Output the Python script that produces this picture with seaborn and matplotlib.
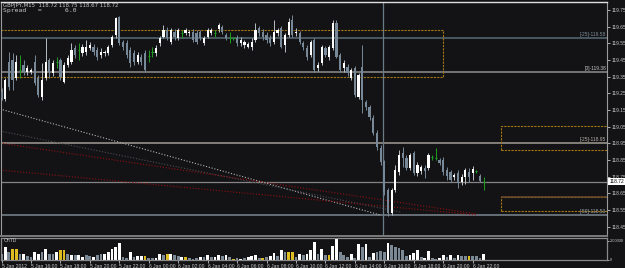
import numpy as np
import pandas as pd
import matplotlib
matplotlib.use("Agg")
import matplotlib.pyplot as plt
import matplotlib.transforms as mtrans
from matplotlib.patches import Rectangle
import seaborn as sns

# ---------------- data ----------------
opens = [
    119.258, 119.216, 119.438, 119.45, 119.342, 119.39, 119.42, 119.378, 119.378, 119.438,
    119.342, 119.228, 119.342, 119.45, 119.372, 119.438, 119.45, 119.318, 119.42, 119.438,
    119.522, 119.51, 119.492, 119.498, 119.522, 119.528, 119.51, 119.48, 119.492, 119.492,
    119.54, 119.60, 119.708, 119.558, 119.552, 119.51, 119.492, 119.438, 119.468, 119.492,
    119.474, 119.498, 119.492, 119.552, 119.588, 119.63, 119.558, 119.618, 119.582, 119.612,
    119.612, 119.612, 119.618, 119.612, 119.618, 119.552, 119.588, 119.612, 119.612, 119.636,
    119.648, 119.60, 119.582, 119.582, 119.582, 119.552, 119.54, 119.528, 119.528, 119.57,
    119.642, 119.618, 119.60, 119.582, 119.558, 119.612, 119.642, 119.54, 119.60, 119.69,
    119.612, 119.612, 119.552, 119.522, 119.48, 119.57, 119.402, 119.432, 119.522, 119.468,
    119.522, 119.672, 119.48, 119.402, 119.408, 119.342, 119.402, 119.228, 119.408, 119.198,
    119.168, 119.102, 119.012, 118.922, 118.838, 118.67, 118.532, 118.67, 118.778, 118.892,
    118.862, 118.802, 118.892, 118.772, 118.784, 118.802, 118.802, 118.868, 118.862, 118.85,
    118.85, 118.79, 118.778, 118.748, 118.772, 118.718, 118.748, 118.778, 118.772, 118.784,
    118.754, 118.72]
highs = [
    119.282, 119.342, 119.498, 119.492, 119.48, 119.48, 119.45, 119.42, 119.402, 119.48,
    119.36, 119.432, 119.582, 119.462, 119.45, 119.468, 119.462, 119.438, 119.48, 119.552,
    119.54, 119.552, 119.546, 119.57, 119.558, 119.546, 119.528, 119.522, 119.51, 119.54,
    119.60, 119.708, 119.714, 119.57, 119.57, 119.528, 119.51, 119.498, 119.486, 119.51,
    119.51, 119.528, 119.54, 119.594, 119.66, 119.648, 119.642, 119.636, 119.642, 119.63,
    119.642, 119.63, 119.636, 119.63, 119.63, 119.594, 119.642, 119.642, 119.63, 119.672,
    119.66, 119.612, 119.618, 119.588, 119.60, 119.588, 119.57, 119.558, 119.582, 119.672,
    119.654, 119.636, 119.618, 119.60, 119.69, 119.642, 119.654, 119.612, 119.702, 119.72,
    119.642, 119.624, 119.564, 119.54, 119.57, 119.582, 119.438, 119.54, 119.534, 119.54,
    119.69, 119.69, 119.492, 119.45, 119.426, 119.402, 119.414, 119.372, 119.54, 119.21,
    119.18, 119.12, 119.03, 118.94, 118.85, 118.682, 118.682, 118.82, 118.91, 118.928,
    118.88, 118.892, 118.904, 118.838, 118.82, 118.82, 118.892, 118.88, 118.922, 118.862,
    118.868, 118.808, 118.79, 118.772, 118.79, 118.766, 118.802, 118.802, 118.814, 118.79,
    118.766, 118.75]
lows = [
    119.21, 119.204, 119.27, 119.27, 119.33, 119.342, 119.36, 119.36, 119.366, 119.30,
    119.228, 119.21, 119.33, 119.342, 119.354, 119.402, 119.33, 119.312, 119.408, 119.426,
    119.462, 119.45, 119.474, 119.48, 119.51, 119.48, 119.45, 119.462, 119.474, 119.48,
    119.528, 119.582, 119.54, 119.51, 119.462, 119.408, 119.42, 119.426, 119.42, 119.378,
    119.438, 119.468, 119.474, 119.534, 119.582, 119.57, 119.546, 119.57, 119.57, 119.582,
    119.60, 119.594, 119.558, 119.546, 119.57, 119.54, 119.582, 119.60, 119.588, 119.618,
    119.606, 119.57, 119.552, 119.57, 119.534, 119.534, 119.522, 119.522, 119.51, 119.558,
    119.594, 119.57, 119.552, 119.534, 119.546, 119.594, 119.522, 119.498, 119.588, 119.588,
    119.594, 119.546, 119.51, 119.45, 119.468, 119.378, 119.384, 119.42, 119.468, 119.45,
    119.51, 119.462, 119.378, 119.378, 119.354, 119.33, 119.228, 119.216, 119.132, 119.15,
    119.09, 119.00, 118.91, 118.82, 118.64, 118.514, 118.52, 118.658, 118.76, 118.808,
    118.79, 118.79, 118.76, 118.754, 118.766, 118.742, 118.79, 118.85, 118.85, 118.82,
    118.76, 118.73, 118.718, 118.73, 118.682, 118.70, 118.706, 118.718, 118.73, 118.772,
    118.718, 118.67]
closes = [
    119.222, 119.33, 119.288, 119.33, 119.438, 119.39, 119.378, 119.402, 119.39, 119.312,
    119.24, 119.33, 119.438, 119.378, 119.432, 119.438, 119.348, 119.42, 119.462, 119.51,
    119.48, 119.51, 119.528, 119.528, 119.54, 119.498, 119.468, 119.498, 119.498, 119.528,
    119.588, 119.702, 119.552, 119.528, 119.48, 119.432, 119.438, 119.48, 119.438, 119.39,
    119.474, 119.498, 119.522, 119.582, 119.63, 119.582, 119.63, 119.588, 119.63, 119.612,
    119.63, 119.618, 119.57, 119.558, 119.582, 119.582, 119.63, 119.63, 119.612, 119.66,
    119.618, 119.582, 119.582, 119.582, 119.552, 119.57, 119.558, 119.546, 119.558, 119.63,
    119.612, 119.588, 119.57, 119.552, 119.618, 119.63, 119.528, 119.60, 119.678, 119.60,
    119.618, 119.558, 119.528, 119.468, 119.558, 119.39, 119.42, 119.528, 119.48, 119.528,
    119.672, 119.468, 119.39, 119.432, 119.372, 119.39, 119.24, 119.36, 119.21, 119.168,
    119.108, 119.012, 118.928, 118.838, 118.658, 118.532, 118.67, 118.79, 118.88, 118.862,
    118.802, 118.88, 118.772, 118.82, 118.808, 118.784, 118.88, 118.868, 118.862, 118.832,
    118.778, 118.754, 118.73, 118.76, 118.712, 118.748, 118.79, 118.748, 118.796, 118.784,
    118.724, 118.72]
volumes = [
    0.62, 1.31, 0.79, 1.14, 1.14, 0.62, 0.62, 0.34, 0.28, 0.79,
    0.62, 0.79, 1.14, 0.62, 0.55, 0.79, 0.97, 0.97, 0.62, 0.52,
    0.45, 0.45, 0.28, 0.45, 0.34, 0.28, 0.45, 0.62, 0.62, 0.79,
    1.14, 1.31, 1.72, 0.28, 0.21, 0.79, 0.28, 0.34, 0.41, 0.41,
    0.21, 0.14, 0.21, 0.62, 0.45, 0.62, 0.62, 0.45, 0.34, 0.28,
    0.28, 0.21, 0.10, 0.21, 0.28, 0.28, 0.48, 0.28, 0.28, 0.48,
    0.34, 0.48, 0.28, 0.07, 0.14, 0.10, 0.21, 0.28, 0.34, 0.48,
    0.21, 0.14, 0.28, 0.34, 0.72, 0.34, 1.03, 0.76, 0.79, 0.79,
    0.28, 0.62, 0.45, 0.62, 0.97, 1.83, 0.62, 1.14, 0.45, 0.45,
    1.48, 2.17, 0.79, 0.45, 0.28, 0.62, 0.21, 1.66, 1.31, 1.66,
    0.28, 0.69, 0.79, 0.86, 0.79, 1.76, 1.59, 1.38, 1.24, 0.97,
    0.34, 0.48, 0.72, 0.97, 0.28, 0.21, 0.90, 0.14, 0.10, 0.21,
    0.48, 0.28, 0.48, 0.21, 0.48, 0.34, 0.41, 0.41, 0.34, 0.34,
    0.14, 0.62]
vol_kind = list("gwgyygwggw" "wgwggwyygw" "gwwggwggww" "wwwggwgwwy" "ggwwgywggw"
                "ygggwgwgww" "gwgygwgwww" "gygwwgwgyy" "gwgwwwgwgy" "wwgggwgwgw"
                "gwgggwgggg" "gwwwgwwggw" "wgwgwggygg" "gw")

time_tick_bars = [0, 8, 16, 24, 32, 40, 48, 56, 64, 72, 80, 88, 96, 104, 112, 120, 128]
time_labels = ["5 Jan 2012", "5 Jan 16:00", "5 Jan 18:00", "5 Jan 20:00", "5 Jan 22:00",
               "6 Jan 00:00", "6 Jan 02:00", "6 Jan 04:00", "6 Jan 06:00", "6 Jan 08:00",
               "6 Jan 10:00", "6 Jan 12:00", "6 Jan 14:00", "6 Jan 16:00", "6 Jan 18:00",
               "6 Jan 20:00", "6 Jan 22:00"]
price_ticks = [119.75, 119.65, 119.55, 119.45, 119.35, 119.25, 119.15, 119.05,
               118.95, 118.85, 118.75, 118.65, 118.55, 118.45]
price_tick_labels = ["119.75", "119.65", "119.55", "119.45", "119.35", "119.25", "119.15",
                     "119.05", "118.95", "118.85", "118.75", "118.65", "118.55", "118.45"]

level_prices = [119.58, 119.38, 118.95, 118.52]
level_labels = ["[-25]-119.58", "[0]-119.38", "[-25]-118.95", "[-50]-118.53"]
last_price = 118.72
header = "GBPJPY,M15  118.72 118.75 118.67 118.72"

# trend lines (bar index, price) anchors
trend_x0 = [-0.4, -0.4, -0.4, -0.4]
trend_p0 = [119.156, 119.024, 118.952, 118.79]
trend_x1 = [102.9, 108.3, 129.2, 129.2]
trend_p1 = [118.52, 118.538, 118.526, 118.52]

# rectangles (bar index from/to, price top/bottom)
rect_x0 = [-0.4, 135.7, 135.7]
rect_x1 = [120.0, 175.0, 175.0]
rect_top = [119.63, 119.054, 118.628]
rect_bot = [119.348, 118.91, 118.544]

vline_bar = 103.7

# ---------------- styling ----------------
BG = "#131316"
UP = "#ffffff"
DOWN = "#778899"
DOJI = "#1e9e1e"
TXT = "#c8c8c8"

sns.set_style("dark", {"axes.facecolor": BG, "figure.facecolor": BG})
plt.rcParams["font.family"] = ["DejaVu Sans"]
NARROW = ["Liberation Sans Narrow", "Liberation Sans", "DejaVu Sans"]

W, H = 625, 268
def box(l, t, r, b):
    return [l / W, 1 - b / H, (r - l) / W, (b - t) / H]

fig = plt.figure(figsize=(6.25, 2.68), dpi=100, facecolor=BG)
ax = fig.add_axes(box(1, 1.5, 607, 236))
axv = fig.add_axes(box(1, 237.5, 607, 259.5))

o = np.array(opens); h = np.array(highs); l = np.array(lows); c = np.array(closes)
n = len(o)
idx = np.arange(n)
kind = np.where(c > o, "up", np.where(c < o, "down", "doji"))
body_col = {"up": UP, "down": DOWN, "doji": DOJI}
wick_col = {"up": "#b8bec5", "down": DOWN, "doji": DOJI}

XL = (-0.14, 164.5)
YL = (118.394, 119.801)

# levels & rectangles first (behind candles)
lev_cols = ["#566a74", "#8e8e8e", "#a39c92", "#7d8890"]
for p, col in zip(level_prices, lev_cols):
    ax.axhline(p, color=col, lw=1.1, zorder=1)
ax.axhline(last_price, color="#858585", lw=0.9, zorder=1)

for x0, x1, pt, pb in zip(rect_x0, rect_x1, rect_top, rect_bot):
    ax.add_patch(Rectangle((x0, pb), x1 - x0, pt - pb, fill=False, edgecolor="#a27612",
                           lw=0.8, ls=(0, (2, 1)), zorder=1.2))
ax.hlines(rect_top[2], rect_x0[2], rect_x1[2], color="#6a4a2e", lw=1.1, zorder=1.3)

# trend lines
trend_cols = ["#b4b4b4", "#4c4c52", "#8c1010", "#8c1010"]
for x0, p0, x1, p1, col in zip(trend_x0, trend_p0, trend_x1, trend_p1, trend_cols):
    sns.lineplot(x=[x0, x1], y=[p0, p1], ax=ax, color=col, lw=0.8,
                 linestyle=(0, (1, 1.6)), zorder=1.5)

ax.axvline(vline_bar, color="#6b7b86", lw=0.9, zorder=1.6)

# candles
ax.vlines(idx, l, h, colors=[wick_col[k] for k in kind], lw=0.7, zorder=2)
m = kind != "doji"
bottom = np.minimum(o, c)
height = np.maximum(np.abs(c - o), 0.004)
ax.bar(idx[m], height[m], bottom=bottom[m], width=0.6,
       color=[body_col[k] for k in kind[m]], linewidth=0, zorder=3)
d = kind == "doji"
ax.hlines(o[d], idx[d] - 0.3, idx[d] + 0.3, colors=DOJI, lw=0.8, zorder=3)

ax.set_xlim(*XL)
ax.set_ylim(*YL)
ax.set_xlabel(""); ax.set_ylabel("")
ax.set_xticks([])
ax.yaxis.tick_right()
ax.set_yticks(price_ticks)
ax.set_yticklabels(price_tick_labels, family=NARROW)
ax.tick_params(axis="y", length=2, width=0.6, color=TXT, labelcolor=TXT, labelsize=3.5, pad=1.2, right=True)
ax.grid(False)
ax.spines["top"].set_color("#e0e0e0"); ax.spines["top"].set_linewidth(1.0)
for s in ["left", "right"]:
    ax.spines[s].set_color("#9a9a9a"); ax.spines[s].set_linewidth(0.8)
ax.spines["bottom"].set_color("#7a7a7a"); ax.spines["bottom"].set_linewidth(1.4)

# level labels
for p, lab, col in zip(level_prices, level_labels, ["#7d909a", "#c8c8c8", "#b8b2a8", "#9aa6ae"]):
    ax.text(XL[1] - 0.3, p + 0.006, lab, ha="right", va="bottom", fontsize=3.5, color=col,
            family=NARROW, zorder=4)

# current price marker
trans = mtrans.blended_transform_factory(ax.transAxes, ax.transData)
ax.text(1.004, last_price, "118.72", transform=trans, ha="left", va="center", fontsize=3.5,
        color="#000000", family=NARROW,
        bbox=dict(boxstyle="square,pad=0.2", fc="#ffffff", ec="none"),
        clip_on=False, zorder=5)

# header text
fig.text(3 / W, 1 - 5 / H, header, ha="left", va="center", fontsize=3.9, color=TXT)
fig.text(3 / W, 1 - 10.5 / H, "Spread   =      6.0", ha="left", va="center", fontsize=4.6,
         color=TXT, family="DejaVu Sans Mono")

# volume panel
vdf = pd.DataFrame({"bar": idx, "vol": volumes, "kind": vol_kind})
sns.barplot(data=vdf, x="bar", y="vol", hue="kind", native_scale=True, dodge=False,
            palette={"w": "#ffffff", "g": "#778899", "y": "#ffd200"}, width=0.75,
            errorbar=None, legend=False, linewidth=0, ax=axv)
axv.set_xlim(*XL)
axv.set_ylim(0, 2.35)
axv.set_xlabel(""); axv.set_ylabel("")
axv.yaxis.tick_right()
axv.set_yticks([0, 2.0])
axv.set_yticklabels(["0", "2.00000"], family=NARROW)
axv.tick_params(axis="y", length=1.5, width=0.6, color=TXT, labelcolor=TXT, labelsize=2.9, pad=0.8, right=True)
axv.set_xticks(time_tick_bars)
axv.set_xticklabels(time_labels, ha="left", family=NARROW)
axv.tick_params(axis="x", length=2, width=0.6, color=TXT, labelcolor=TXT, labelsize=3.6, pad=1.0, bottom=True)
axv.grid(False)
for s in ["top", "left", "right", "bottom"]:
    axv.spines[s].set_color("#8a8a8a"); axv.spines[s].set_linewidth(0.9)
axv.text(0.004, 0.86, "OnTD", transform=axv.transAxes, ha="left", va="center", fontsize=3.6,
         color=TXT, family=NARROW)

fig.savefig("out.png", dpi=100, facecolor=BG)
